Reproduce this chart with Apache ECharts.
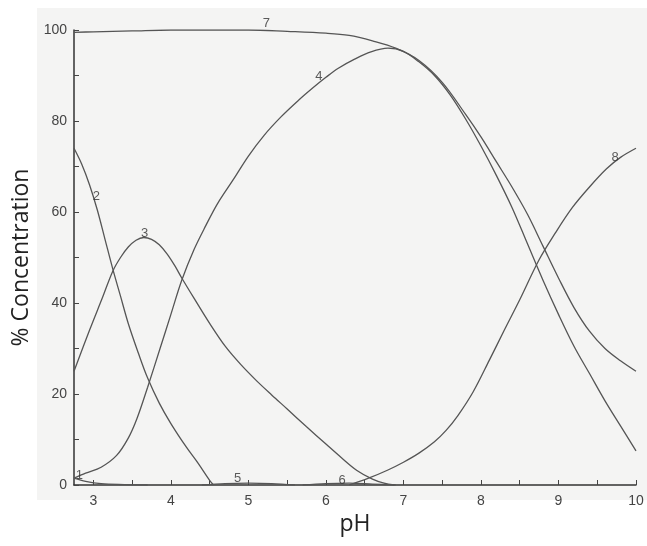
<!DOCTYPE html>
<html>
<head>
<meta charset="utf-8">
<title>% Concentration vs pH</title>
<script src="https://cdn.jsdelivr.net/npm/echarts@6/dist/echarts.min.js"></script>
<style>
  html, body { margin: 0; padding: 0; background: #fff; }
  #chart { width: 647px; height: 546px; }
</style>
</head>
<body>
<div id="chart"></div>
<script>
// species curves, [pH, %]
var curve1 = [[2.75, 1.5], [2.9, 0.8], [3.1, 0.3], [3.4, 0.1], [3.7, 0]];
var curve2 = [[2.75, 74], [2.85, 70.5], [2.95, 66], [3.05, 60.5], [3.15, 54], [3.25, 47.5], [3.35, 41.5],
  [3.45, 35.5], [3.58, 29], [3.7, 23.5], [3.85, 18], [4.0, 13.5], [4.2, 8.3], [4.35, 4.8], [4.5, 1], [4.55, 0]];
var curve3 = [[2.75, 25], [2.95, 34], [3.12, 41.3], [3.25, 47], [3.35, 50], [3.45, 52.3], [3.55, 53.8],
  [3.65, 54.4], [3.75, 54], [3.85, 52.8], [3.95, 50.8], [4.05, 48.2], [4.14, 45.5], [4.3, 41], [4.5, 35.5],
  [4.7, 30.5], [4.9, 26.5], [5.1, 23], [5.3, 19.8], [5.5, 16.7], [5.75, 12.8], [6.0, 9], [6.2, 6],
  [6.4, 3.2], [6.6, 1.3], [6.75, 0.4], [6.88, 0]];
var curve4 = [[2.75, 1.5], [2.9, 2.6], [3.1, 3.9], [3.3, 6.5], [3.45, 10.3], [3.56, 14.5], [3.7, 21.5],
  [3.86, 30], [4.0, 37.5], [4.14, 45], [4.3, 51.8], [4.45, 57], [4.6, 61.8], [4.8, 67], [5.0, 72.3],
  [5.2, 76.8], [5.42, 80.9], [5.65, 84.6], [5.84, 87.4], [6.0, 89.6], [6.16, 91.6], [6.37, 93.6], [6.58, 95.2],
  [6.8, 96], [7.0, 95.3], [7.2, 93], [7.4, 90], [7.6, 85.8], [7.8, 80.5], [8.0, 74.5], [8.2, 68],
  [8.4, 61], [8.6, 53], [8.8, 45], [9.0, 37.5], [9.2, 30.5], [9.4, 24.5], [9.6, 18.5], [9.8, 13], [10, 7.5]];
var curve5 = [[4.4, 0], [4.7, 0.3], [5.0, 0.4], [5.3, 0.3], [5.6, 0]];
var curve6 = [[5.7, 0], [6.0, 0.3], [6.3, 0.4], [6.6, 0.2], [6.9, 0]];
var curve7 = [[2.75, 99.5], [3.0, 99.6], [3.5, 99.8], [4.0, 100], [4.5, 100], [5.0, 100], [5.5, 99.7],
  [6.0, 99.3], [6.3, 98.8], [6.6, 97.6], [6.9, 96], [7.2, 93.3], [7.5, 88.5], [7.8, 81.5], [8.0, 76.5],
  [8.2, 71], [8.4, 65.5], [8.6, 59.5], [8.8, 52.5], [9.0, 45.5], [9.2, 39], [9.4, 33.8], [9.6, 30],
  [9.8, 27.3], [10, 25]];
var curve8 = [[6.3, 0], [6.55, 1.5], [6.8, 3.3], [7.0, 5], [7.2, 7], [7.4, 9.5], [7.55, 12], [7.7, 15.2],
  [7.9, 20.5], [8.11, 27.5], [8.3, 34], [8.5, 40.7], [8.75, 49.5], [8.96, 55.4], [9.18, 61], [9.4, 65.5],
  [9.62, 69.5], [9.8, 72], [10, 74]];

// curve number labels, placed where they sit on the plot
var labelNames = ['1', '2', '3', '4', '5', '6', '7', '8'];
var labelPos = [[2.82, 2.2], [3.04, 63.5], [3.66, 55.2], [5.91, 89.7], [4.86, 1.5], [6.21, 1.1], [5.23, 101.5], [9.73, 72.1]];

var xTicks = [3, 3.5, 4, 4.5, 5, 5.5, 6, 6.5, 7, 7.5, 8, 8.5, 9, 9.5, 10];
var xLabels = [3, 4, 5, 6, 7, 8, 9, 10];
var yTicks = [0, 10, 20, 30, 40, 50, 60, 70, 80, 90, 100];
var yLabels = [0, 20, 40, 60, 80, 100];

var curves = [curve1, curve2, curve3, curve4, curve5, curve6, curve7, curve8];

var lineColor = '#555';
var series = curves.map(function (c, i) {
    return {
        name: 'curve' + (i + 1),
        type: 'line',
        data: c,
        smooth: 0.35,
        showSymbol: false,
        lineStyle: { color: lineColor, width: 1.3 },
        z: 3
    };
});
series.push({
    type: 'scatter',
    symbolSize: 0,
    clip: false,
    data: labelNames.map(function (n, i) { return { name: n, value: labelPos[i] }; }),
    label: {
        show: true,
        position: 'inside',
        formatter: '{b}',
        color: '#333',
        fontSize: 13,
        fontFamily: 'Liberation Sans'
    },
    z: 5
});

var myChart = echarts.init(document.getElementById('chart'));
myChart.setOption({
    backgroundColor: '#fff',
    animation: false,
    graphic: [{
        type: 'rect',
        shape: { x: 37, y: 8, width: 610, height: 492 },
        style: { fill: '#f4f4f3' },
        z: -10
    }],
    grid: { left: 74, right: 11, top: 30, bottom: 61 },
    xAxis: {
        type: 'value',
        min: 2.75,
        max: 10,
        name: 'pH',
        nameLocation: 'middle',
        nameGap: 27,
        nameTextStyle: { fontSize: 23, color: '#222', fontFamily: 'Open Sans' },
        splitLine: { show: false },
        axisLine: { lineStyle: { color: '#333', width: 1.5 } },
        axisTick: { inside: true, length: 5, customValues: xTicks, lineStyle: { color: '#444' } },
        axisLabel: { customValues: xLabels, color: '#444', fontSize: 14, fontFamily: 'Liberation Sans', margin: 9 }
    },
    yAxis: {
        type: 'value',
        min: 0,
        max: 100,
        name: '% Concentration',
        nameLocation: 'middle',
        nameGap: 40,
        nameTextStyle: { fontSize: 23, color: '#222', fontFamily: 'Open Sans' },
        splitLine: { show: false },
        axisLine: { show: true, lineStyle: { color: '#333', width: 1.5 } },
        axisTick: { show: true, inside: true, length: 5, customValues: yTicks, lineStyle: { color: '#444' } },
        axisLabel: { customValues: yLabels, color: '#444', fontSize: 14, fontFamily: 'Liberation Sans', margin: 7 }
    },
    series: series
});
</script>
</body>
</html>
